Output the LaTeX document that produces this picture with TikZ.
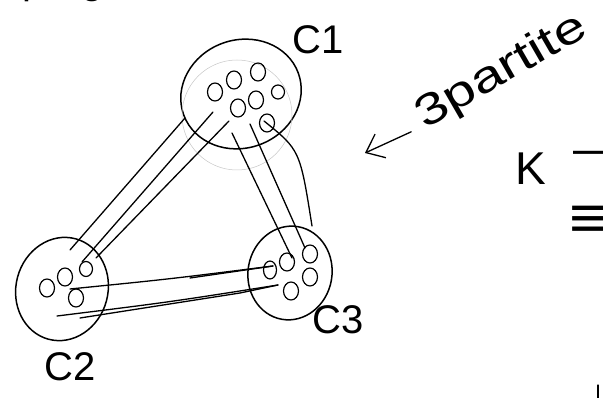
\documentclass[tikz,border=0pt]{standalone}
\usepackage{fontspec}
\setmainfont{Liberation Sans}
\usetikzlibrary{shapes.geometric,arrows.meta}

\begin{document}
\begin{tikzpicture}[x=1pt,y=-1pt,
cluster/.style={draw, ellipse, line width=1.5pt, inner sep=0pt},
vtx/.style={draw, ellipse, line width=1.2pt, inner sep=0pt, minimum width=15pt, minimum height=18pt},
edge/.style={line width=1.3pt, line cap=round},
lbl/.style={inner sep=0pt, font=\fontsize{40}{40}\selectfont}
]
\useasboundingbox (0,0) rectangle (603,398);

% the three parts
\node[cluster, minimum width=122pt, minimum height=108pt, rotate=20] (c1) at (241,94) {};
\node[cluster, minimum width=92pt, minimum height=104pt, rotate=-15] (c2) at (62,289) {};
\node[cluster, minimum width=84pt, minimum height=94pt, rotate=-10] (c3) at (290,273) {};
\draw[gray!45, line width=0.5pt] (237,115) circle (55);

% vertices of C1
\node[vtx] (v1a) at (215,92) {};
\node[vtx] (v1b) at (234,80) {};
\node[vtx] (v1c) at (258,72) {};
\node[vtx] (v1d) at (238,108) {};
\node[vtx] (v1e) at (256,100) {};
\node[vtx, minimum width=13pt, minimum height=14pt] (v1f) at (278,92) {};
\node[vtx] (v1g) at (267,123) {};
% vertices of C2
\node[vtx] (v2a) at (47,288) {};
\node[vtx] (v2b) at (65,277) {};
\node[vtx, minimum width=13pt, minimum height=15pt] (v2c) at (86,269) {};
\node[vtx] (v2d) at (76,298) {};
% vertices of C3
\node[vtx, minimum width=13pt] (v3a) at (270,270) {};
\node[vtx] (v3b) at (287,262) {};
\node[vtx] (v3c) at (310,254) {};
\node[vtx] (v3d) at (310,277) {};
\node[vtx] (v3e) at (291,291) {};

% end points of the edges
\coordinate (p1) at (185,118);
\coordinate (p2) at (70,250);
\coordinate (q1) at (213,112);
\coordinate (q2) at (82,262);
\coordinate (r1) at (229,121);
\coordinate (r2) at (96,258);
\coordinate (s1) at (232,133);
\coordinate (s2) at (292,258);
\coordinate (t1) at (250,124);
\coordinate (t2) at (305,248);
\coordinate (u1) at (264,121);
\coordinate (u2) at (312,226);
\coordinate (w1) at (70,289);
\coordinate (w2) at (273,266);
\coordinate (w3) at (190,278);
\coordinate (x1) at (57,316);
\coordinate (x2) at (278,285);
\coordinate (x3) at (80,318);
\coordinate (x4) at (240,293);

% C1 -- C2
\draw[edge] (p1) -- (p2);
\draw[edge] (q1) -- (q2);
\draw[edge] (r1) -- (r2);
% C1 -- C3
\draw[edge] (s1) -- (s2);
\draw[edge] (t1) -- (t2);
\draw[edge] (u1) .. controls (300,150) .. (u2);
% C2 -- C3
\draw[edge] (w1) .. controls (170,279) .. (w2);
\draw[edge] (w3) -- (w2);
\draw[edge] (x1) .. controls (170,302) .. (x2);
\draw[edge] (x3) -- (x4) -- (x2);

% labels
\node[lbl] (l1) at (318,40) {C1};
\node[lbl] (l2) at (70,367) {C2};
\node[lbl] (l3) at (338,320) {C3};

\node[lbl, font=\fontsize{44}{44}\selectfont, rotate=30] (part) at (502,72) {\scalebox{1.3}[1]{3partite}};
\coordinate (tip) at (365,153);
\draw[edge, -{Straight Barb[length=16pt,width=26pt]}] (part.west) ++(-8,12) coordinate (arr) -- (tip);

\node[lbl, font=\fontsize{46}{46}\selectfont, anchor=base west] (k) at (515,185) {K\hspace{28pt}\raisebox{20pt}{—}};
\node[lbl] (eqv) at (588,222) {\scalebox{1.6}[1.5]{≡}};

% cut off at the edges
\node[lbl, anchor=base west] (top) at (0,-6) {ep . g};
\draw[edge] (598,385) -- (598,398);
\end{tikzpicture}
\end{document}
